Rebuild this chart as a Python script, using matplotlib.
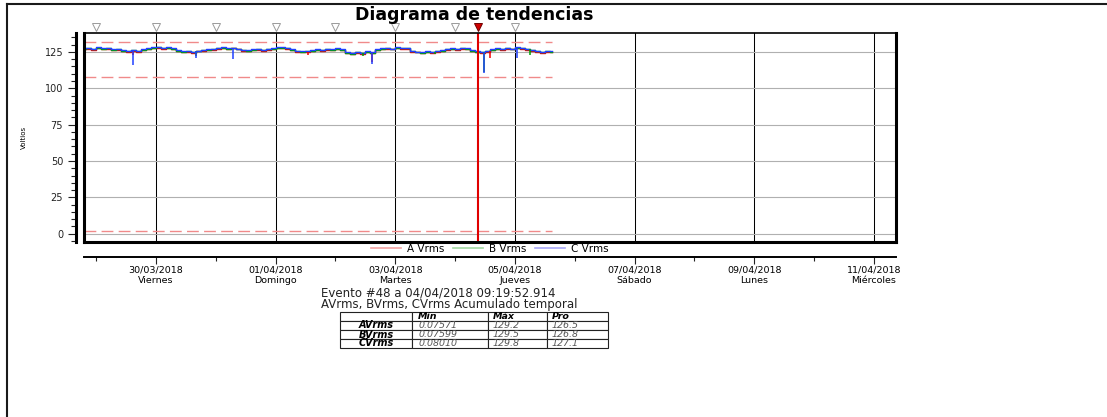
import numpy as np
import matplotlib
matplotlib.use('Agg')
import matplotlib.pyplot as plt
import matplotlib.dates as mdates
import matplotlib.transforms as mtransforms
from matplotlib.lines import Line2D
from matplotlib.ticker import MultipleLocator

# --- data ---------------------------------------------------------------
start_time = '2018-03-28T19:00'   # first sample, one value every 2 hours
step_hours = 2

c_vrms = [127.6, 127.9, 127.2, 128.1, 127.5, 127.8, 126.9, 127.3, 126.2, 125.8,
          126.4, 125.6, 126.9, 127.4, 128.2, 128.4, 127.9, 128.3, 127.6, 126.1,
          125.4, 125.8, 125.2, 125.9, 126.3, 126.8, 127.1, 127.9, 128.2, 127.6,
          128.0, 127.3, 126.6, 126.2, 126.8, 127.0, 126.5, 127.2, 127.6, 128.3,
          128.1, 127.8, 126.9, 125.7, 125.3, 125.9, 126.2, 126.8, 126.4, 127.2,
          126.9, 127.5, 126.7, 124.8, 124.2, 125.1, 124.5, 125.3, 124.6, 126.8,
          127.4, 127.9, 127.3, 128.2, 128.0, 127.7, 125.9, 125.2, 124.8, 125.4,
          124.9, 125.6, 126.1, 127.0, 127.6, 127.2, 127.9, 127.4, 126.0, 125.3,
          124.9, 125.8, 126.9, 127.5, 127.1, 127.8, 127.3, 128.1, 127.9, 127.2,
          126.3, 125.7, 125.2, 125.8, 125.4]
a_vrms = [127.0, 127.1, 126.5, 127.6, 126.8, 127.3, 126.2, 126.6, 125.5, 125.1,
          125.9, 124.9, 126.3, 126.8, 127.5, 127.9, 127.2, 127.7, 127.0, 125.4,
          124.7, 125.2, 124.5, 125.4, 125.6, 126.2, 126.4, 127.3, 127.6, 126.9,
          127.4, 126.7, 125.9, 125.6, 126.1, 126.5, 125.8, 126.6, 126.9, 127.8,
          127.5, 127.1, 126.3, 125.0, 124.7, 125.2, 125.6, 126.1, 125.8, 126.5,
          126.3, 126.8, 126.1, 124.1, 123.6, 124.5, 123.8, 124.6, 124.0, 126.1,
          126.8, 127.2, 126.7, 127.6, 127.3, 127.1, 125.2, 124.6, 124.1, 124.8,
          124.2, 125.0, 125.4, 126.4, 126.9, 126.6, 127.2, 126.8, 125.3, 124.7,
          124.2, 125.1, 126.3, 126.8, 126.5, 127.1, 126.7, 127.5, 127.2, 126.6,
          125.6, 125.1, 124.5, 125.2, 124.8]
b_vrms = [127.3, 127.5, 126.9, 127.8, 127.2, 127.5, 126.6, 127.0, 125.9, 125.4,
          126.1, 125.3, 126.6, 127.1, 127.9, 128.1, 127.6, 128.0, 127.3, 125.8,
          125.0, 125.5, 124.9, 125.6, 126.0, 126.5, 126.8, 127.6, 127.9, 127.3,
          127.7, 127.0, 126.3, 125.9, 126.5, 126.7, 126.2, 126.9, 127.3, 128.0,
          127.8, 127.5, 126.6, 125.4, 125.0, 125.6, 125.9, 126.5, 126.1, 126.9,
          126.6, 127.2, 126.4, 124.5, 123.9, 124.8, 124.2, 125.0, 124.3, 126.5,
          127.1, 127.6, 127.0, 127.9, 127.7, 127.4, 125.6, 124.9, 124.5, 125.1,
          124.6, 125.3, 125.8, 126.7, 127.3, 126.9, 127.6, 127.1, 125.7, 125.0,
          124.6, 125.5, 126.6, 127.2, 126.8, 127.5, 127.0, 127.8, 127.6, 126.9,
          126.0, 125.4, 124.9, 125.5, 125.1]

# short sags (time, phase, min, max)
dip_times = ['2018-03-29T14:50', '2018-03-29T15:00', '2018-03-30T16:00', '2018-03-30T16:10',
             '2018-03-31T06:50', '2018-04-01T13:00', '2018-04-02T11:00', '2018-04-02T14:30',
             '2018-04-02T14:40', '2018-04-03T16:00', '2018-04-04T11:25', '2018-04-04T11:30',
             '2018-04-04T13:50', '2018-04-05T00:40', '2018-04-05T06:00']
dip_phase = ['C', 'A', 'C', 'B', 'C', 'A', 'B', 'C', 'A', 'B', 'C', 'B', 'A', 'C', 'B']
dip_low = [116.0, 122.8, 121.0, 122.4, 120.2, 123.2, 122.3, 117.0, 118.2, 123.3,
           110.4, 111.5, 121.0, 121.0, 123.0]
dip_high = [126.0, 125.5, 125.6, 125.3, 127.6, 125.0, 124.5, 124.8, 124.0, 125.2,
            125.2, 124.6, 125.5, 127.8, 127.0]

limit_levels = [132, 108, 2]

event_days = ['2018-03-29', '2018-03-30', '2018-03-31', '2018-04-01',
              '2018-04-02', '2018-04-03', '2018-04-04', '2018-04-05']
event_selected = '2018-04-04T09:19:52'

x_range = ['2018-03-28T19:00', '2018-04-11T08:50']
major_days = ['2018-03-30', '2018-04-01', '2018-04-03', '2018-04-05',
              '2018-04-07', '2018-04-09', '2018-04-11']
major_labels = ['30/03/2018\nViernes', '01/04/2018\nDomingo', '03/04/2018\nMartes',
                '05/04/2018\nJueves', '07/04/2018\nSábado', '09/04/2018\nLunes',
                '11/04/2018\nMiércoles']
minor_days = ['2018-03-29', '2018-03-31', '2018-04-02', '2018-04-04',
              '2018-04-06', '2018-04-08', '2018-04-10']
y_ticks = [0, 25, 50, 75, 100, 125]

table_header = ['', 'Mín', 'Máx', 'Pro']
table_rows = ['AVrms', 'BVrms', 'CVrms']
table_min = ['0.07571', '0.07599', '0.08010']
table_max = ['129.2', '129.5', '129.8']
table_pro = ['126.5', '126.8', '127.1']

# --- plotting -----------------------------------------------------------
W, H = 1107, 417
fig = plt.figure(figsize=(W / 100, H / 100), dpi=100)
plt.rcParams['font.family'] = 'DejaVu Sans'

def dn(s):
    return mdates.date2num(np.datetime64(s))

times = np.datetime64(start_time) + (np.arange(len(c_vrms)) * step_hours).astype('timedelta64[h]')
tnum = mdates.date2num(times)

ax = fig.add_axes([83.5 / W, 1 - 241.7 / H, (896 - 83.5) / W, (241.7 - 33) / H])
ax.set_xlim(dn(x_range[0]), dn(x_range[1]))
ax.set_ylim(-5.5, 138)
ax.set_axisbelow(True)

colors = {'A': '#f00000', 'B': '#00a000', 'C': '#2040ff'}
ax.plot(tnum, a_vrms, color=colors['A'], lw=1.0, drawstyle='steps-mid')
ax.plot(tnum, b_vrms, color=colors['B'], lw=1.0, drawstyle='steps-mid')
ax.plot(tnum, c_vrms, color=colors['C'], lw=1.0, drawstyle='steps-mid')
for t, ph, lo, hi in zip(dip_times, dip_phase, dip_low, dip_high):
    ax.vlines(dn(t), lo, hi, color=colors[ph], lw=1.1, zorder=3 if ph == 'C' else 2.5)

ax.hlines(limit_levels, tnum[0], tnum[-1], colors='#f08a8a', lw=1.0,
          linestyles=(0, (8.5, 3.8)), zorder=2)

# selected event marker
ax.axvline(dn(event_selected), color='#e00000', lw=1.5, zorder=4)

# event triangles above the plot
trans = mtransforms.blended_transform_factory(ax.transData, ax.transAxes)
ax.plot([dn(d) for d in event_days], [1.029] * len(event_days), 'v', ms=6,
        mfc='white', mec='#9a9a9a', mew=0.7, transform=trans, clip_on=False)
ax.plot([dn(event_selected)], [1.029], 'v', ms=6, mfc='#d00000', mec='#700000',
        mew=0.7, transform=trans, clip_on=False)

# ticks
ax.set_yticks(y_ticks)
ax.yaxis.set_minor_locator(MultipleLocator(5))
ax.set_xticks([dn(d) for d in major_days])
ax.set_xticklabels(major_labels, linespacing=1.0)
ax.set_xticks([dn(d) for d in minor_days], minor=True)
ax.tick_params(axis='y', which='major', length=5.8, width=0.8, pad=3.5, labelsize=7, colors='#222')
ax.tick_params(axis='y', which='minor', length=3.6, width=0.8, color='#222')
ax.tick_params(axis='x', which='major', length=5, width=0.8, pad=1, labelsize=6.8, color='#222')
ax.tick_params(axis='x', which='minor', length=3, width=0.8, color='#222')

# grid
ax.grid(True, which='major', axis='x', color='black', lw=0.75)
ax.get_xgridlines()[3].set_color('#666666')
ax.grid(True, which='major', axis='y')
y_grid_style = {0: ('#c4c4c4', 1.6), 25: ('#c4c4c4', 1.4), 50: ('#606060', 0.8),
                75: ('#a8a8a8', 0.9), 100: ('#c4c4c4', 1.7), 125: ('#707070', 0.8)}
for gl, v in zip(ax.get_ygridlines(), y_ticks):
    gl.set_color(y_grid_style[v][0])
    gl.set_linewidth(y_grid_style[v][1])

# spines: detached y and x axes, plus a frame around the plot
ax.spines['left'].set_position(('outward', 5.4))
ax.spines['left'].set_linewidth(2.2)
ax.spines['bottom'].set_position(('outward', 11.2))
ax.spines['bottom'].set_linewidth(1.4)
ax.spines['top'].set_visible(False)
ax.spines['right'].set_visible(False)
frame = dict(transform=ax.transAxes, clip_on=False, color='black', solid_capstyle='projecting', zorder=5)
ax.plot([0, 0], [0, 1], lw=2.2, **frame)
ax.plot([1, 1], [0, 1], lw=2.2, **frame)
ax.plot([0, 1], [0, 0], lw=2.2, **frame)
ax.plot([0, 1], [1, 1], lw=1.2, **frame)

# legend
handles = [Line2D([], [], color='#f4a3a3', lw=1.2),
           Line2D([], [], color='#a3d9a3', lw=1.2),
           Line2D([], [], color='#a8a8f8', lw=1.2)]
ax.legend(handles, ['A Vrms', 'B Vrms', 'C Vrms'], loc='center', bbox_to_anchor=(0.5, -0.035),
          ncol=3, frameon=False, fontsize=7.5, handlelength=2.9, handletextpad=0.6,
          columnspacing=0.8, borderpad=0, borderaxespad=0)

# texts
fig.text(474.5 / W, 1 - 15 / H, 'Diagrama de tendencias', ha='center', va='center',
         fontsize=12.5, fontweight='bold')
fig.text(24 / W, 1 - 137 / H, 'Voltios', rotation=90, ha='center', va='center', fontsize=5)
fig.text(321 / W, 1 - 298.5 / H, 'Evento #48 a 04/04/2018 09:19:52.914\nAVrms, BVrms, CVrms Acumulado temporal',
         ha='left', va='center', fontsize=8.5, linespacing=0.82, color='#222')

# statistics table
tax = fig.add_axes([340 / W, 1 - 348 / H, 268 / W, 36 / H])
tax.axis('off')
cell_text = [table_header] + [[r, a, b, c] for r, a, b, c in zip(table_rows, table_min, table_max, table_pro)]
tbl = tax.table(cellText=cell_text, cellLoc='left', colWidths=[72, 76, 59, 61], bbox=[0, 0, 1, 1])
tbl.auto_set_font_size(False)
tbl.set_fontsize(6.8)
for (r, c), cell in tbl.get_celld().items():
    cell.set_linewidth(0.8)
    cell.set_edgecolor('#222222')
    txt = cell.get_text()
    txt.set_fontstyle('italic')
    if r == 0 or c == 0:
        txt.set_fontweight('bold')
        txt.set_color('black')
    else:
        txt.set_color('#555555')
    if c == 0:
        txt.set_ha('center')
        txt.set_fontsize(7)
    cell.PAD = 0.08

# page border
fig.add_artist(Line2D([7 / W, 7 / W], [0, 1 - 4 / H], transform=fig.transFigure, color='#1a1a1a', lw=1.5))
fig.add_artist(Line2D([7 / W, 1], [1 - 4 / H, 1 - 4 / H], transform=fig.transFigure, color='#1a1a1a', lw=1.5))

fig.savefig('out.png', dpi=100)
